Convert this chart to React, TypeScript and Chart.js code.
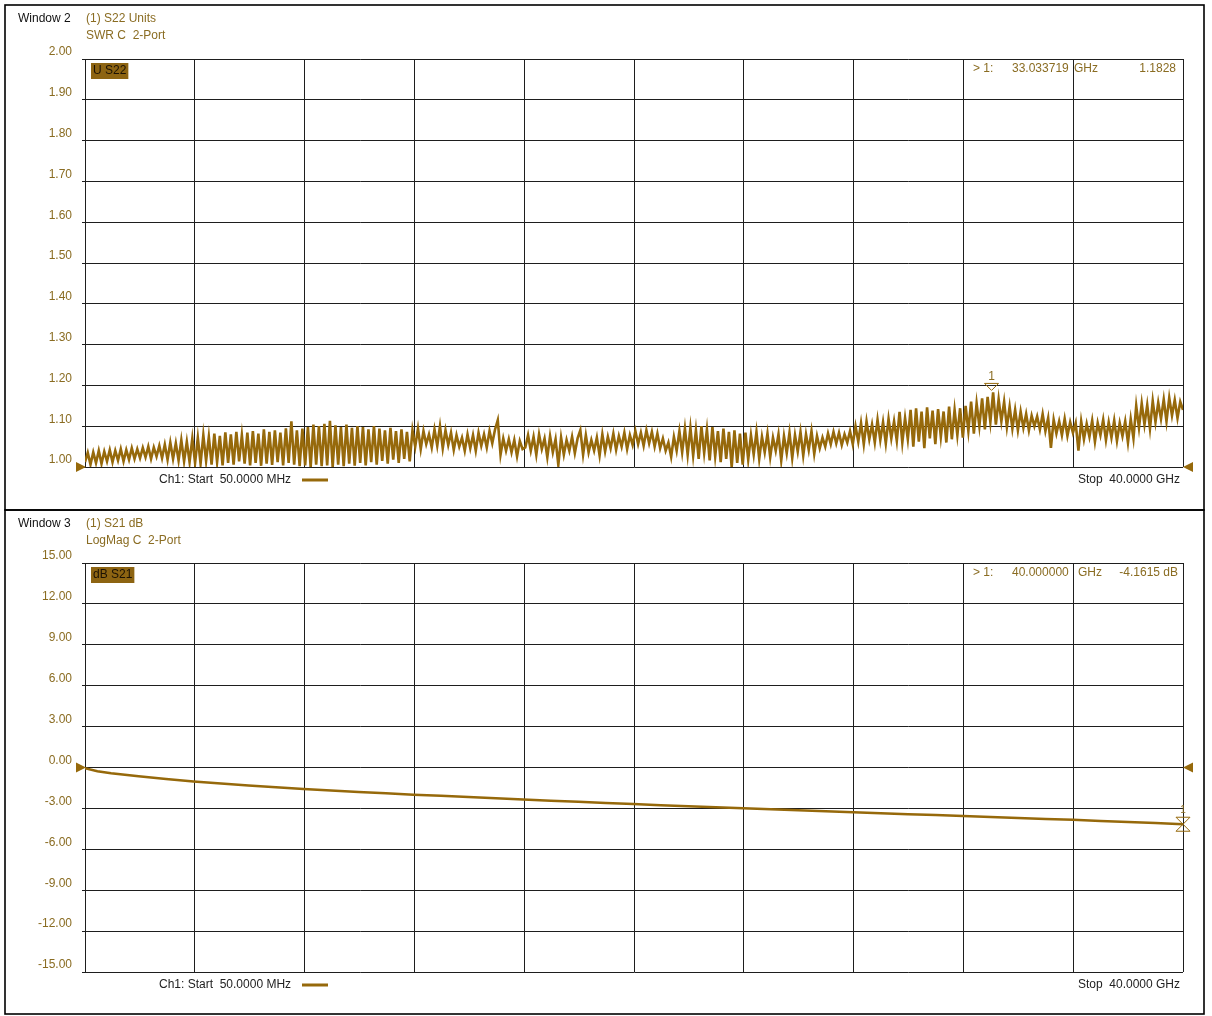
import React, { useEffect, useRef } from "react";
import { Chart, registerables } from "chart.js";

Chart.register(...registerables);

// ---------- styling constants ----------
const TRACE = "#96690b";
const GOLD = "#8a6c22";
const GRID = "#1e1e1e";
const BOX = "#8d6412";
const FONT = '"Liberation Sans", Arial, sans-serif';

// ---------- sweep ----------
const START_GHZ = 0.05;
const STOP_GHZ = 40;
const GRID_DIVS = 10;

// ---------- Window 2 : S22 SWR ----------
const swrTickValues = [1.0, 1.1, 1.2, 1.3, 1.4, 1.5, 1.6, 1.7, 1.8, 1.9, 2.0];
const swrValues = [
  1.012,1.035,1.006,1.036,1.010,1.040,1.008,1.038,1.014,1.042,1.012,1.040,1.016,1.044,1.014,1.042,1.018,1.046,1.020,1.044,
  1.022,1.047,1.024,1.050,1.020,1.048,1.026,1.052,1.022,1.055,1.018,1.060,1.020,1.058,1.016,1.066,1.014,1.062,1.012,1.070,
  1.010,1.072,1.008,1.078,1.015,1.074,1.006,1.082,1.012,1.076,1.004,1.085,1.010,1.080,1.006,1.086,1.014,1.078,1.008,1.084,
  1.004,1.088,1.010,1.082,1.003,1.092,1.008,1.086,1.005,1.090,1.012,1.084,1.004,1.095,1.010,1.112,1.006,1.090,1.002,1.094,
  1.004,1.098,1.000,1.104,1.006,1.100,1.002,1.106,1.004,1.113,1.000,1.102,1.006,1.098,1.002,1.104,1.008,1.096,1.003,1.100,
  1.010,1.098,1.004,1.092,1.012,1.100,1.006,1.094,1.015,1.090,1.008,1.096,1.018,1.088,1.010,1.092,1.020,1.086,1.014,1.090,
  1.050,1.094,1.044,1.088,1.056,1.080,1.048,1.092,1.052,1.100,1.046,1.090,1.054,1.084,1.042,1.078,1.050,1.072,1.040,1.080,
  1.046,1.078,1.040,1.084,1.052,1.080,1.048,1.088,1.058,1.092,1.115,1.030,1.070,1.040,1.068,1.036,1.066,1.026,1.064,1.044,
  1.048,1.078,1.040,1.074,1.030,1.080,1.044,1.070,1.024,1.076,1.036,1.068,1.005,1.072,1.030,1.066,1.040,1.074,1.034,1.070,
  1.090,1.030,1.078,1.036,1.066,1.040,1.072,1.028,1.080,1.038,1.074,1.046,1.082,1.042,1.076,1.050,1.084,1.044,1.078,1.054,
  1.088,1.056,1.084,1.052,1.090,1.058,1.086,1.050,1.082,1.046,1.070,1.040,1.060,1.025,1.074,1.040,1.088,1.036,1.094,1.030,
  1.096,1.028,1.090,1.020,1.100,1.034,1.092,1.016,1.098,1.026,1.088,1.012,1.094,1.020,1.086,1.000,1.090,1.010,1.082,1.006,
  1.084,1.018,1.078,1.030,1.086,1.020,1.074,1.036,1.082,1.024,1.072,1.040,1.080,1.016,1.076,1.034,1.084,1.022,1.078,1.038,
  1.086,1.028,1.080,1.042,1.088,1.032,1.076,1.046,1.072,1.050,1.082,1.056,1.086,1.058,1.084,1.054,1.080,1.060,1.088,1.056,
  1.100,1.062,1.108,1.056,1.112,1.068,1.104,1.060,1.116,1.066,1.110,1.058,1.118,1.070,1.112,1.064,1.135,1.060,1.120,1.068,
  1.140,1.050,1.144,1.062,1.136,1.046,1.146,1.070,1.138,1.056,1.142,1.074,1.136,1.060,1.148,1.068,1.140,1.078,1.144,1.072,
  1.150,1.088,1.160,1.082,1.156,1.100,1.168,1.092,1.172,1.110,1.1828,1.104,1.166,1.112,1.160,1.098,1.148,1.094,1.140,1.090,
  1.136,1.096,1.130,1.090,1.126,1.100,1.124,1.092,1.130,1.088,1.120,1.047,1.116,1.082,1.112,1.078,1.118,1.076,1.110,1.084,
  1.108,1.040,1.112,1.068,1.106,1.074,1.114,1.062,1.108,1.078,1.116,1.066,1.110,1.072,1.114,1.064,1.108,1.076,1.112,1.060,
  1.118,1.070,1.150,1.096,1.156,1.104,1.152,1.094,1.162,1.110,1.158,1.118,1.166,1.112,1.170,1.126,1.164,1.120,1.160,1.140,
];
const swrMarkerGHz = 33.033719;
const swrMarkerValue = 1.1828;
const swrRefLevel = 1.0;

// ---------- Window 3 : S21 dB ----------
const s21TickValues = [-15, -12, -9, -6, -3, 0, 3, 6, 9, 12, 15];
const s21Freqs = [
  0.05, 0.5, 1, 2, 3, 4, 5, 6, 7, 8, 9, 10, 11, 12, 13, 14, 15, 16, 17, 18, 19, 20,
  21, 22, 23, 24, 25, 26, 27, 28, 29, 30, 31, 32, 33, 34, 35, 36, 37, 38, 39, 40,
];
const s21Values = [
  -0.05, -0.28, -0.42, -0.65, -0.85, -1.03, -1.18, -1.32, -1.45, -1.57, -1.68, -1.79,
  -1.89, -1.99, -2.08, -2.17, -2.26, -2.35, -2.43, -2.51, -2.60, -2.68, -2.76, -2.84,
  -2.92, -2.99, -3.06, -3.14, -3.21, -3.28, -3.35, -3.42, -3.49, -3.56, -3.63, -3.70,
  -3.77, -3.84, -3.92, -3.99, -4.07, -4.1615,
];
const s21MarkerGHz = 40.0;
const s21MarkerValue = -4.1615;
const s21RefLevel = 0;

type WinText = {
  windowName: string;
  line1: string;
  line2: string;
  box: string;
  readFreq: string;
  readVal: string;
  gHzX: number;
  valRight: number;
  startText: string;
  stopText: string;
};

const win2Text: WinText = {
  windowName: "Window 2",
  line1: "(1) S22 Units",
  line2: "SWR C  2-Port",
  box: "U S22",
  readFreq: "33.033719",
  readVal: "1.1828",
  gHzX: 1074,
  valRight: 1176,
  startText: "Ch1: Start  50.0000 MHz",
  stopText: "Stop  40.0000 GHz",
};
const win3Text: WinText = {
  windowName: "Window 3",
  line1: "(1) S21 dB",
  line2: "LogMag C  2-Port",
  box: "dB S21",
  readFreq: "40.000000",
  readVal: "-4.1615 dB",
  gHzX: 1078,
  valRight: 1178,
  startText: "Ch1: Start  50.0000 MHz",
  stopText: "Stop  40.0000 GHz",
};

const xGridValues = Array.from(
  { length: GRID_DIVS + 1 },
  (_, k) => START_GHZ + (k * (STOP_GHZ - START_GHZ)) / GRID_DIVS
);

function txt(
  ctx: CanvasRenderingContext2D,
  s: string,
  x: number,
  y: number,
  color: string,
  align: CanvasTextAlign = "left",
  size = 12
) {
  ctx.save();
  ctx.font = `${size}px ${FONT}`;
  ctx.fillStyle = color;
  ctx.textAlign = align;
  ctx.textBaseline = "middle";
  ctx.fillText(s, x, y);
  ctx.restore();
}

type WinCfg = {
  frameTop: number;
  frameBottom: number;
  text: WinText;
  refLevel: number;
  markerGHz: number;
  markerValue: number;
  markerKind: "down" | "hourglass";
};

function makeOverlay(cfg: WinCfg) {
  return {
    id: "overlay",
    afterDraw(chart: any) {
      const ctx: CanvasRenderingContext2D = chart.ctx;
      const xs = chart.scales.x;
      const ys = chart.scales.y;
      const area = chart.chartArea;
      const t = cfg.text;

      // window frame
      ctx.save();
      ctx.strokeStyle = "#000";
      ctx.lineWidth = 1.6;
      ctx.strokeRect(5, cfg.frameTop, 1199, cfg.frameBottom - cfg.frameTop);
      ctx.restore();

      // header texts
      const hy = cfg.frameTop + 14;
      txt(ctx, t.windowName, 18, hy, "#111");
      txt(ctx, t.line1, 86, hy, GOLD);
      txt(ctx, t.line2, 86, hy + 17, GOLD);

      // trace label box
      ctx.save();
      ctx.font = `12px ${FONT}`;
      const bw = ctx.measureText(t.box).width + 4;
      ctx.fillStyle = BOX;
      ctx.fillRect(area.left + 6, area.top + 4, bw, 16);
      ctx.restore();
      txt(ctx, t.box, area.left + 8, area.top + 12, "#1c1204");

      // marker readout
      const ry = area.top + 10;
      txt(ctx, "> 1:", 973, ry, GOLD);
      txt(ctx, t.readFreq, 1012, ry, GOLD);
      txt(ctx, "GHz", t.gHzX, ry, GOLD);
      txt(ctx, t.readVal, t.valRight, ry, GOLD, "right");

      // bottom line: start / legend / stop
      const by = area.bottom + 13;
      txt(ctx, t.startText, 159, by, "#222");
      ctx.save();
      ctx.strokeStyle = TRACE;
      ctx.lineWidth = 3;
      ctx.beginPath();
      ctx.moveTo(302, by);
      ctx.lineTo(328, by);
      ctx.stroke();
      ctx.restore();
      txt(ctx, t.stopText, 1180, by, "#222", "right");

      // reference level triangles
      const ry0 = ys.getPixelForValue(cfg.refLevel);
      ctx.save();
      ctx.fillStyle = TRACE;
      ctx.beginPath();
      ctx.moveTo(area.left + 1, ry0);
      ctx.lineTo(area.left - 9, ry0 - 5);
      ctx.lineTo(area.left - 9, ry0 + 5);
      ctx.closePath();
      ctx.fill();
      ctx.beginPath();
      ctx.moveTo(area.right, ry0);
      ctx.lineTo(area.right + 10, ry0 - 5);
      ctx.lineTo(area.right + 10, ry0 + 5);
      ctx.closePath();
      ctx.fill();
      ctx.restore();

      // marker 1
      const mx = xs.getPixelForValue(cfg.markerGHz);
      const my = ys.getPixelForValue(cfg.markerValue);
      ctx.save();
      ctx.strokeStyle = TRACE;
      ctx.lineWidth = 1;
      if (cfg.markerKind === "down") {
        ctx.beginPath();
        ctx.moveTo(mx, my - 2);
        ctx.lineTo(mx - 7, my - 9);
        ctx.lineTo(mx + 7, my - 9);
        ctx.closePath();
        ctx.stroke();
        ctx.restore();
        txt(ctx, "1", mx, my - 16, GOLD, "center");
      } else {
        ctx.beginPath();
        ctx.moveTo(mx, my);
        ctx.lineTo(mx - 7, my - 7);
        ctx.lineTo(mx + 7, my - 7);
        ctx.closePath();
        ctx.moveTo(mx, my);
        ctx.lineTo(mx - 7, my + 7);
        ctx.lineTo(mx + 7, my + 7);
        ctx.closePath();
        ctx.stroke();
        ctx.restore();
        txt(ctx, "1", mx, my - 14, GOLD, "center", 10);
      }
    },
  };
}

function makeChart(
  canvas: HTMLCanvasElement,
  points: { x: number; y: number }[],
  yMin: number,
  yMax: number,
  yTicks: number[],
  padTop: number,
  padBottom: number,
  lineWidth: number,
  cfg: WinCfg
) {
  return new Chart(canvas, {
    type: "line",
    data: {
      datasets: [
        {
          data: points,
          borderColor: TRACE,
          borderWidth: lineWidth,
          pointRadius: 0,
          tension: 0,
          fill: false,
        },
      ],
    },
    options: {
      animation: false,
      responsive: false,
      devicePixelRatio: 1,
      events: [],
      layout: { padding: { left: 0, right: 29, top: padTop, bottom: padBottom } },
      plugins: {
        legend: { display: false },
        tooltip: { enabled: false },
        title: { display: false },
      },
      scales: {
        x: {
          type: "linear",
          min: START_GHZ,
          max: STOP_GHZ,
          afterBuildTicks: (s: any) => {
            s.ticks = xGridValues.map((v) => ({ value: v }));
          },
          afterFit: (s: any) => {
            s.height = 0;
          },
          ticks: { display: false },
          grid: { color: GRID, lineWidth: 1, drawTicks: false },
          border: { display: false },
        },
        y: {
          type: "linear",
          min: yMin,
          max: yMax,
          afterBuildTicks: (s: any) => {
            s.ticks = yTicks.map((v) => ({ value: v }));
          },
          afterFit: (s: any) => {
            s.width = 85;
          },
          ticks: {
            color: GOLD,
            font: { family: FONT, size: 12 },
            padding: 10,
            labelOffset: -7,
            callback: (v: any) => Number(v).toFixed(2),
          },
          grid: { color: GRID, lineWidth: 1, tickLength: 3, drawTicks: true },
          border: { display: true, color: GRID },
        },
      },
    } as any,
    plugins: [makeOverlay(cfg)],
  });
}

export default function App() {
  const topRef = useRef<HTMLCanvasElement>(null);
  const botRef = useRef<HTMLCanvasElement>(null);

  useEffect(() => {
    const n = swrValues.length;
    const swrPoints = swrValues.map((v, i) => ({
      x: START_GHZ + (i * (STOP_GHZ - START_GHZ)) / (n - 1),
      y: v,
    }));
    const s21Points = s21Values.map((v, i) => ({ x: s21Freqs[i], y: v }));

    const c1 = makeChart(topRef.current!, swrPoints, 1, 2, swrTickValues, 59, 1016 - 467, 2.6, {
      frameTop: 5,
      frameBottom: 510,
      text: win2Text,
      refLevel: swrRefLevel,
      markerGHz: swrMarkerGHz,
      markerValue: swrMarkerValue,
      markerKind: "down",
    });
    const c2 = makeChart(botRef.current!, s21Points, -15, 15, s21TickValues, 563, 1016 - 972, 2.5, {
      frameTop: 510,
      frameBottom: 1014,
      text: win3Text,
      refLevel: s21RefLevel,
      markerGHz: s21MarkerGHz,
      markerValue: s21MarkerValue,
      markerKind: "hourglass",
    });
    return () => {
      c1.destroy();
      c2.destroy();
    };
  }, []);

  const cs: React.CSSProperties = { position: "absolute", left: 0, top: 0 };
  return (
    <div style={{ position: "fixed", left: 0, top: 0, width: 1212, height: 1016, background: "#fff" }}>
      <canvas ref={topRef} width={1212} height={1016} style={cs} />
      <canvas ref={botRef} width={1212} height={1016} style={cs} />
    </div>
  );
}
